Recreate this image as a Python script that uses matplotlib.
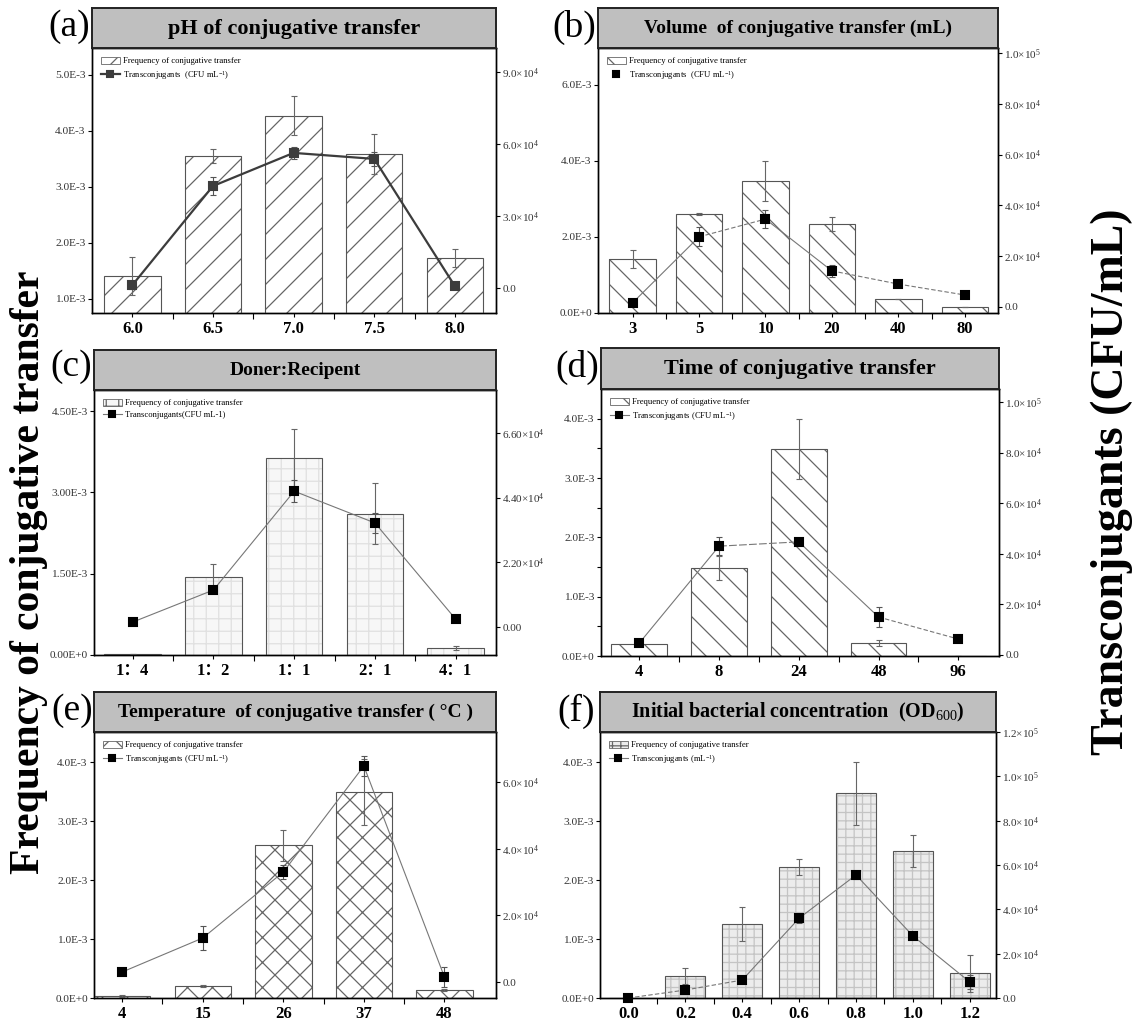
import matplotlib
matplotlib.use('Agg')
import matplotlib.pyplot as plt
from matplotlib.patches import Patch
from matplotlib.lines import Line2D
import numpy as np

plt.rcParams['font.family'] = ['Liberation Serif', 'Noto Sans CJK SC', 'DejaVu Sans']
plt.rcParams['mathtext.fontset'] = 'custom'
plt.rcParams['mathtext.rm'] = 'Liberation Serif'
plt.rcParams['mathtext.it'] = 'Liberation Serif:italic'
plt.rcParams['mathtext.bf'] = 'Liberation Serif:bold'
plt.rcParams['hatch.linewidth'] = 0.6

# ---------------- data ----------------
a_cats = ['6.0', '6.5', '7.0', '7.5', '8.0']
a_freq = [1.41e-3, 3.55e-3, 4.27e-3, 3.59e-3, 1.73e-3]
a_freq_err = [0.34e-3, 0.13e-3, 0.35e-3, 0.36e-3, 0.16e-3]
a_trans = [0.12e4, 4.25e4, 5.63e4, 5.38e4, 0.08e4]
a_trans_err = [0.15e4, 0.37e4, 0.25e4, 0.30e4, 0.0]

b_cats = ['3', '5', '10', '20', '40', '80']
b_freq = [1.42e-3, 2.60e-3, 3.47e-3, 2.34e-3, 0.37e-3, 0.16e-3]
b_freq_err = [0.24e-3, 0.03e-3, 0.53e-3, 0.19e-3, 0.01e-3, 0.01e-3]
b_trans = [0.16e4, 2.76e4, 3.46e4, 1.42e4, 0.90e4, 0.47e4]
b_trans_err = [0.0, 0.37e4, 0.35e4, 0.24e4, 0.05e4, 0.05e4]

c_cats = ['1：4', '1：2', '1：1', '2：1', '4：1']
c_freq = [0.02e-3, 1.44e-3, 3.63e-3, 2.61e-3, 0.13e-3]
c_freq_err = [0.0, 0.23e-3, 0.54e-3, 0.56e-3, 0.03e-3]
c_trans = [0.17e4, 1.26e4, 4.62e4, 3.54e4, 0.27e4]
c_trans_err = [0.0, 0.10e4, 0.37e4, 0.35e4, 0.0]

d_cats = ['4', '8', '24', '48', '96']
d_freq = [0.20e-3, 1.48e-3, 3.49e-3, 0.22e-3, 0.0]
d_freq_err = [0.02e-3, 0.20e-3, 0.51e-3, 0.05e-3, 0.0]
d_trans = [0.47e4, 4.30e4, 4.47e4, 1.50e4, 0.63e4]
d_trans_err = [0.10e4, 0.36e4, 0.10e4, 0.38e4, 0.0]

e_cats = ['4', '15', '26', '37', '48']
e_freq = [0.03e-3, 0.20e-3, 2.59e-3, 3.49e-3, 0.14e-3]
e_freq_err = [0.02e-3, 0.02e-3, 0.26e-3, 0.56e-3, 0.02e-3]
e_trans = [0.30e4, 1.32e4, 3.30e4, 6.48e4, 0.15e4]
e_trans_err = [0.05e4, 0.35e4, 0.20e4, 0.30e4, 0.30e4]

f_cats = ['0.0', '0.2', '0.4', '0.6', '0.8', '1.0', '1.2']
f_freq = [0.0, 0.37e-3, 1.25e-3, 2.22e-3, 3.47e-3, 2.49e-3, 0.42e-3]
f_freq_err = [0.0, 0.14e-3, 0.29e-3, 0.13e-3, 0.53e-3, 0.27e-3, 0.31e-3]
f_trans = [0.0, 0.36e4, 0.81e4, 3.60e4, 5.55e4, 2.80e4, 0.72e4]
f_trans_err = [0.0, 0.10e4, 0.05e4, 0.20e4, 0.20e4, 0.10e4, 0.30e4]

# axis ticks / labels
a_lticks = [1e-3, 2e-3, 3e-3, 4e-3, 5e-3]
a_llabels = ['1.0E-3', '2.0E-3', '3.0E-3', '4.0E-3', '5.0E-3']
a_rticks = [0, 3e4, 6e4, 9e4]
a_rlabels = ['0.0', '3.0×10$^{4}$', '6.0×10$^{4}$', '9.0×10$^{4}$']

b_lticks = [0, 2e-3, 4e-3, 6e-3]
b_llabels = ['0.0E+0', '2.0E-3', '4.0E-3', '6.0E-3']
b_rticks = [0, 2e4, 4e4, 6e4, 8e4, 1e5]
b_rlabels = ['0.0', '2.0×10$^{4}$', '4.0×10$^{4}$', '6.0×10$^{4}$', '8.0×10$^{4}$', '1.0×10$^{5}$']

c_lticks = [0, 1.5e-3, 3e-3, 4.5e-3]
c_llabels = ['0.00E+0', '1.50E-3', '3.00E-3', '4.50E-3']
c_rticks = [0, 2.2e4, 4.4e4, 6.6e4]
c_rlabels = ['0.00', '2.20×10$^{4}$', '4.40×10$^{4}$', '6.60×10$^{4}$']

d_lticks = [0, 1e-3, 2e-3, 3e-3, 4e-3]
d_llabels = ['0.0E+0', '1.0E-3', '2.0E-3', '3.0E-3', '4.0E-3']
d_rticks = [0, 2e4, 4e4, 6e4, 8e4, 1e5]
d_rlabels = ['0.0', '2.0×10$^{4}$', '4.0×10$^{4}$', '6.0×10$^{4}$', '8.0×10$^{4}$', '1.0×10$^{5}$']

e_lticks = [0, 1e-3, 2e-3, 3e-3, 4e-3]
e_llabels = ['0.0E+0', '1.0E-3', '2.0E-3', '3.0E-3', '4.0E-3']
e_rticks = [0, 2e4, 4e4, 6e4]
e_rlabels = ['0.0', '2.0×10$^{4}$', '4.0×10$^{4}$', '6.0×10$^{4}$']

f_lticks = [0, 1e-3, 2e-3, 3e-3, 4e-3]
f_llabels = ['0.0E+0', '1.0E-3', '2.0E-3', '3.0E-3', '4.0E-3']
f_rticks = [0, 2e4, 4e4, 6e4, 8e4, 1e5, 1.2e5]
f_rlabels = ['0.0', '2.0×10$^{4}$', '4.0×10$^{4}$', '6.0×10$^{4}$', '8.0×10$^{4}$',
             '1.0×10$^{5}$', '1.2×10$^{5}$']

titles = ['pH of conjugative transfer',
          'Volume  of conjugative transfer (mL)',
          'Doner:Recipent',
          'Time of conjugative transfer',
          'Temperature  of conjugative transfer ( °C )',
          'Initial bacterial concentration  (OD$_{600}$)']
letters = ['(a)', '(b)', '(c)', '(d)', '(e)', '(f)']
leg_freq = 'Frequency of conjugative transfer'
leg_trans = ['Transconjugants  (CFU mL$^{-1}$)',
             'Transconjugants  (CFU mL$^{-1}$)',
             'Transconjugants(CFU mL-1)',
             'Transconjugants (CFU mL$^{-1}$)',
             'Transconjugants (CFU mL$^{-1}$)',
             'Transconjugants (mL$^{-1}$)']

# ---------------- figure ----------------
W, H = 1136, 1028
DPI = 150
K = 100.0 / DPI
fig = plt.figure(figsize=(W / DPI, H / DPI), dpi=DPI)
fig.patch.set_facecolor('white')


def fr(x0, y0, x1, y1):
    return [x0 / W, 1 - y1 / H, (x1 - x0) / W, (y1 - y0) / H]


TICKC = '#333333'
DASH = (0, (4, 2))


def draw_panel(box, ty0, lxy, title, tsize, letter, cats, freq, ferr, trans, terr,
               xlim, lticks, llabels, lylim, rticks, rlabels, rylim,
               hatch, hcolor, face, seg_ls, lcolor, lw, mcolor, ltrans,
               leg_line=True, lminor=None):
    x0, y0, x1, y1 = box
    ax = fig.add_axes(fr(x0, y0, x1, y1))
    x = np.arange(len(cats))
    ax.bar(x, freq, 0.7, color=face, hatch=hatch, edgecolor=hcolor, linewidth=0, zorder=2)
    ax.bar(x, freq, 0.7, fill=False, edgecolor='#555555', linewidth=0.8 * K, zorder=3)
    ax.errorbar(x, freq, yerr=ferr, fmt='none', ecolor='#666666', elinewidth=0.8 * K,
                capsize=2.5 * K, capthick=0.8 * K, zorder=4)
    ax.set_xlim(*xlim)
    ax.set_ylim(*lylim)
    ax.set_xticks(x)
    ax.set_xticklabels(cats, fontsize=12 * K, fontweight='bold')
    ax.set_xticks(x[:-1] + 0.5, minor=True)
    ax.set_yticks(lticks)
    ax.set_yticklabels(llabels, fontsize=8.2 * K, color=TICKC)
    if lminor is not None:
        ax.set_yticks(lminor, minor=True)
    ax.tick_params(axis='x', which='major', length=3 * K, width=0.8 * K, pad=3 * K)
    ax.tick_params(axis='x', which='minor', length=4 * K, width=0.8 * K)
    ax.tick_params(axis='y', which='both', length=3 * K, width=0.8 * K, pad=1.5 * K)
    for s in ax.spines.values():
        s.set_linewidth(1.0 * K)

    ax2 = ax.twinx()
    for i in range(len(x) - 1):
        ax2.plot(x[i:i + 2], trans[i:i + 2], color=lcolor, lw=lw * K, ls=seg_ls[i], zorder=4)
    ax2.errorbar(x, trans, yerr=terr, fmt='s', color=mcolor, mec=mcolor, ms=6 * K,
                 ecolor='#555555', elinewidth=0.8 * K, capsize=2.5 * K, capthick=0.8 * K,
                 clip_on=False, zorder=5)
    ax2.set_ylim(*rylim)
    ax2.set_yticks(rticks)
    ax2.set_yticklabels(rlabels, fontsize=8 * K, color=TICKC)
    ax2.tick_params(axis='y', length=3 * K, width=0.8 * K, pad=1.5 * K)
    for s in ax2.spines.values():
        s.set_linewidth(1.0 * K)

    h1 = Patch(facecolor=face, hatch=hatch, edgecolor='#666666', linewidth=0.6 * K)
    if leg_line:
        h2 = Line2D([], [], color=lcolor, lw=lw * K, marker='s', ms=5 * K, mfc=mcolor, mec=mcolor)
    else:
        h2 = Line2D([], [], ls='none', marker='s', ms=5 * K, mfc=mcolor, mec=mcolor)
    ax2.legend([h1, h2], [leg_freq, ltrans], loc='upper left', bbox_to_anchor=(0.0, 1.0),
               frameon=False, fontsize=6.2 * K, handlelength=2.2, handleheight=0.9,
               borderaxespad=0.6, labelspacing=0.4, handletextpad=0.4)

    tax = fig.add_axes(fr(x0, ty0, x1, y0))
    tax.set_facecolor('#bfbfbf')
    tax.set_xticks([])
    tax.set_yticks([])
    for s in tax.spines.values():
        s.set_linewidth(1.4 * K)
        s.set_color('#222222')
    tax.text(0.5, 0.48, title, transform=tax.transAxes, ha='center', va='center',
             fontsize=tsize * K, fontweight='bold')
    fig.text(lxy[0] / W, 1 - lxy[1] / H, letter, ha='center', va='center', fontsize=27 * K)
    return ax, ax2


draw_panel((92, 48, 496, 313), 8, (69, 27), titles[0], 16, letters[0], a_cats, a_freq, a_freq_err,
           a_trans, a_trans_err, (-0.5, 4.51), a_lticks, a_llabels, (0.75e-3, 5.48e-3),
           a_rticks, a_rlabels, (-1.04e4, 1.0e5), '//', '#666666', 'white',
           ['-'] * 4, '#3c3c3c', 1.6, '#3c3c3c', leg_trans[0])

draw_panel((598, 48, 998, 313), 8, (574, 27), titles[1], 14, letters[1], b_cats, b_freq, b_freq_err,
           b_trans, b_trans_err, (-0.52, 5.5), b_lticks, b_llabels, (0, 6.97e-3),
           b_rticks, b_rlabels, (-2.4e3, 1.02e5), '\\\\', '#666666', 'white',
           ['-', DASH, '-', DASH, DASH], '#777777', 0.8, 'black', leg_trans[1], leg_line=False)

draw_panel((94, 390, 496, 655), 350, (71, 367), titles[2], 14, letters[2], c_cats, c_freq, c_freq_err,
           c_trans, c_trans_err, (-0.48, 4.5), c_lticks, c_llabels, (0, 4.89e-3),
           c_rticks, c_rlabels, (-0.95e4, 8.06e4), '++', '#e0e0e0', '#f7f7f7',
           ['-'] * 4, '#777777', 0.8, 'black', leg_trans[2])

draw_panel((601, 389, 999, 656), 348, (577, 367), titles[3], 16, letters[3], d_cats, d_freq, d_freq_err,
           d_trans, d_trans_err, (-0.48, 4.51), d_lticks, d_llabels, (0, 4.5e-3),
           d_rticks, d_rlabels, (-400, 1.051e5), '\\\\', '#666666', 'white',
           ['-', (0, (7, 2)), '-', DASH], '#777777', 0.8, 'black', leg_trans[3],
           lminor=[0.5e-3, 1.5e-3, 2.5e-3, 3.5e-3])

draw_panel((94, 732, 496, 998), 692, (72, 711), titles[4], 14, letters[4], e_cats, e_freq, e_freq_err,
           e_trans, e_trans_err, (-0.35, 4.64), e_lticks, e_llabels, (0, 4.51e-3),
           e_rticks, e_rlabels, (-0.48e4, 7.5e4), 'xx', '#666666', 'white',
           ['-'] * 4, '#777777', 0.8, 'black', leg_trans[4])

draw_panel((600, 732, 996, 998), 692, (576, 711), titles[5], 14.5, letters[5], f_cats, f_freq, f_freq_err,
           f_trans, f_trans_err, (-0.5, 6.46), f_lticks, f_llabels, (0, 4.51e-3),
           f_rticks, f_rlabels, (0, 1.2e5), '+++', '#c4c4c4', '#ececec',
           [DASH, DASH, '-', '-', '-', '-'], '#777777', 0.8, 'black', leg_trans[5])

fig.text(29 / W, 1 - 572 / H, 'Frequency of conjugative transfer', rotation=90,
         ha='center', va='center', fontsize=30 * K, fontweight='bold')
fig.text(1112 / W, 1 - 482 / H, 'Transconjugants (CFU/mL)', rotation=90,
         ha='center', va='center', fontsize=33 * K, fontweight='bold')

fig.savefig('out.png', dpi=DPI, facecolor='white')
